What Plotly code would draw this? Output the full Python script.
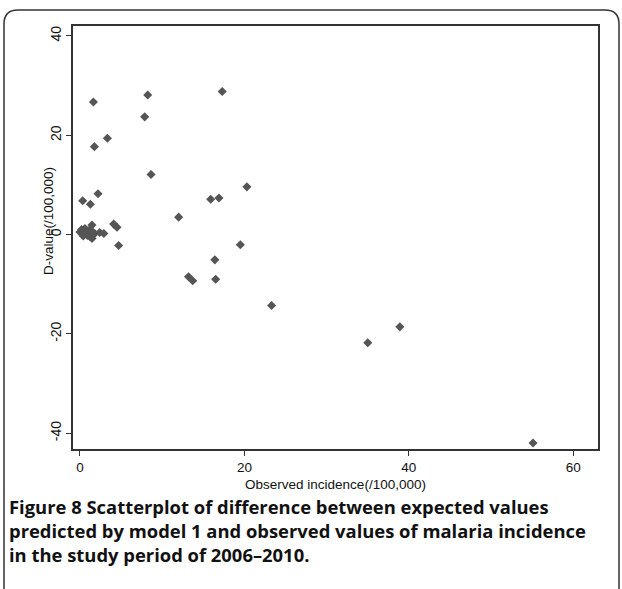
import plotly.graph_objects as go

# Observed incidence (/100,000)
observed = [1.63, 8.24, 7.87, 3.33, 1.75, 17.3, 8.64, 20.3, 15.9, 16.9, 12.0,
            19.5, 16.4, 13.2, 13.7, 16.5, 23.3, 38.9, 35.0, 55.1,
            0.33, 1.26, 2.19, 1.46, 4.1, 4.5, 4.7, 1.8, 2.4, 2.9, 1.46,
            0.0, 0.2, 0.3, 0.5, 0.6, 0.8, 0.9, 1.0, 1.1, 0.4, 1.3, 1.4, 0.7, 1.2]
# D-value (/100,000)
dvalue = [26.7, 28.1, 23.7, 19.4, 17.7, 28.8, 12.1, 9.6, 7.1, 7.35, 3.5,
          -2.05, -5.1, -8.5, -9.3, -9.0, -14.3, -18.6, -21.8, -42.0,
          6.8, 6.1, 8.2, 1.9, 2.1, 1.45, -2.2, 0.2, 0.4, 0.2, -0.8,
          0.5, 1.0, 0.0, 0.6, 1.2, 0.3, -0.2, 0.8, 0.4, -0.3, 0.9, 0.1, 0.5, -0.4]

x_ticks = [0, 20, 40, 60]
y_ticks = [-40, -20, 0, 20, 40]
y_tick_labels = ["-40", "-20", "0", "20", "40"]

caption = ("<b>Figure 8 Scatterplot of difference between expected values<br>"
           "predicted by model 1 and observed values of malaria incidence<br>"
           "in the study period of 2006–2010.</b>")

W, H = 622, 589
L_, R_, T_, B_ = 73, 598, 26, 449          # plot area in pixels
ML, MR, MT, MB = L_, W - R_, T_, H - B_
PW, PH = W - ML - MR, H - MT - MB


def px(xp):
    return (xp - ML) / PW


def py(yp):
    return 1 - (yp - MT) / PH


narrow = "Liberation Sans Narrow, Arial Narrow, Liberation Sans, Arial"

fig = go.Figure()
fig.add_trace(go.Scatter(
    x=observed, y=dvalue, mode="markers",
    marker=dict(symbol="diamond", size=7, color="#555555", line=dict(width=0)),
    showlegend=False, hoverinfo="skip"))

# outer rounded frame (pixel coords converted to paper)
x0, y0, x1, y1, r = 4, 10, 619, 640, 14
path = (f"M {px(x0)},{py(y1)} L {px(x0)},{py(y0 + r)} "
        f"Q {px(x0)},{py(y0)} {px(x0 + r)},{py(y0)} "
        f"L {px(x1 - r)},{py(y0)} "
        f"Q {px(x1)},{py(y0)} {px(x1)},{py(y0 + r)} "
        f"L {px(x1)},{py(y1)}")

fig.update_layout(
    width=W, height=H,
    margin=dict(l=ML, r=MR, t=MT, b=MB, pad=0, autoexpand=False),
    paper_bgcolor="white", plot_bgcolor="white",
    xaxis=dict(range=[-0.85, 63.0], tickvals=x_ticks, ticks="outside", ticklen=5,
               tickwidth=1.2, tickcolor="#333", showgrid=False, zeroline=False,
               showline=True, linecolor="#333", linewidth=1.5, mirror=True,
               tickfont=dict(family=narrow, size=13.5, color="#111"),
               title=dict(text="Observed incidence(/100,000)", standoff=6,
                          font=dict(family=narrow, size=13.5, color="#111"))),
    yaxis=dict(range=[-43.2, 42.0], tickvals=y_ticks, ticktext=y_tick_labels,
               ticks="outside", ticklen=5,
               tickwidth=1.2, tickcolor="#333", showgrid=False, zeroline=False,
               showline=True, linecolor="#333", linewidth=1.5, mirror=True,
               tickangle=-90,
               tickfont=dict(family=narrow, size=14, color="#111")),
    shapes=[dict(type="path", xref="paper", yref="paper", path=path,
                 line=dict(color="#333", width=1.5))],
    annotations=[
        dict(text="D-value(/100,000)", xref="paper", yref="paper",
             x=px(48), y=py(221), xanchor="center", yanchor="middle",
             textangle=-90, showarrow=False,
             font=dict(family=narrow, size=13.5, color="#111")),
        dict(text=caption, xref="paper", yref="paper",
             x=px(7), y=py(492), xanchor="left", yanchor="top",
             align="left", showarrow=False,
             font=dict(family="Open Sans, Noto Sans, Arial", size=18.4,
                       color="#111"))],
)

fig.write_html("out.html",
               config={"displayModeBar": False},
               post_script="document.body.style.margin='0';"
                           "document.body.style.overflow='hidden';")
